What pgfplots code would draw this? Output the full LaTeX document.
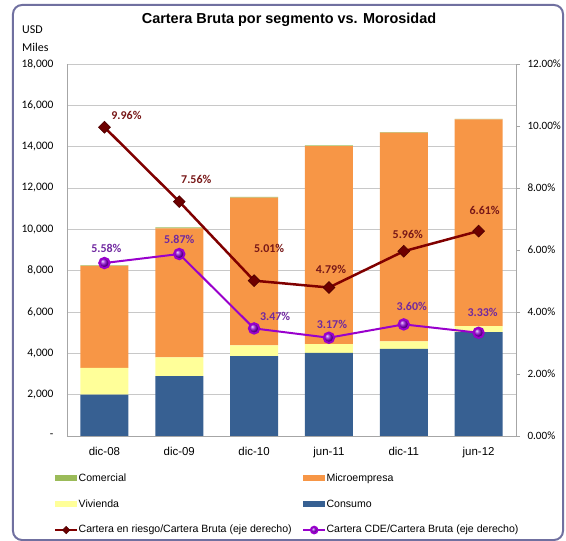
\documentclass[border=0pt]{standalone}
\usepackage{pgfplots}
\pgfplotsset{compat=1.18}
\usepackage{fontspec}
\setmainfont{Carlito}
\newfontfamily\arial{Liberation Sans}
\definecolor{consumo}{RGB}{55,96,146}
\definecolor{vivienda}{RGB}{255,255,153}
\definecolor{micro}{RGB}{247,150,70}
\definecolor{comercial}{RGB}{155,187,89}
\definecolor{riesgo}{RGB}{128,0,0}
\definecolor{riesgolab}{RGB}{120,24,24}
\definecolor{cde}{RGB}{153,0,204}
\definecolor{cdelab}{RGB}{112,40,160}
\definecolor{framec}{RGB}{112,112,160}
\definecolor{axisgray}{RGB}{166,166,166}
\definecolor{gridgray}{RGB}{200,200,200}
\begin{document}
\begin{tikzpicture}[x=1bp,y=1bp]
\path[use as bounding box] (-67,-105) rectangle (499,436);
\draw[framec, line width=2bp, rounded corners=9bp] (-54,-104) rectangle (496,431);
\node[font=\arial\bfseries\fontsize{14.5}{16}\selectfont] at (222,416) {Cartera Bruta por segmento vs. Morosidad};
\node[anchor=west, font=\fontsize{12}{14}\selectfont, inner sep=0pt] at (-45,406) {USD};
\node[anchor=west, font=\fontsize{12}{14}\selectfont, inner sep=0pt] at (-45,389) {Miles};
\begin{axis}[at={(0,0)}, anchor=south west, scale only axis, width=449bp, height=372bp,
  xmin=-0.5, xmax=5.5, ymin=0, ymax=18000,
  scaled y ticks=false,
  ybar stacked, bar width=48bp,
  axis y line*=left, axis x line*=bottom,
  axis line style={draw=axisgray, line width=0.8bp},
  xtick={0,...,5}, xticklabels={dic-08,dic-09,dic-10,jun-11,dic-11,jun-12},
  xticklabel style={font=\arial\fontsize{11.5}{13}\selectfont, yshift=-8bp},
  ytick={0,2000,4000,6000,8000,10000,12000,14000,16000,18000},
  yticklabels={{-\hspace{6bp}},{2,000},{4,000},{6,000},{8,000},{10,000},{12,000},{14,000},{16,000},{18,000}},
  yticklabel style={font=\fontsize{11.5}{13}\selectfont, xshift=-10bp},
  major tick length=0pt,
  ymajorgrids, grid style={draw=gridgray, line width=0.8bp},
  every axis plot/.append style={draw=none},
]
\addplot[fill=consumo] coordinates {(0,2000) (1,2900) (2,3870) (3,4020) (4,4210) (5,5030)};
\addplot[fill=vivienda] coordinates {(0,1300) (1,910) (2,520) (3,430) (4,370) (5,290)};
\addplot[fill=micro] coordinates {(0,4930) (1,6240) (2,7140) (3,9570) (4,10100) (5,10000)};
\addplot[fill=comercial] coordinates {(0,30) (1,40) (2,40) (3,40) (4,20) (5,30)};
\end{axis}
\begin{axis}[at={(0,0)}, anchor=south west, scale only axis, width=449bp, height=372bp,
  xmin=-0.5, xmax=5.5, ymin=0, ymax=12,
  axis y line*=right, axis x line=none,
  axis line style={draw=axisgray, line width=0.8bp},
  ytick={0,2,4,6,8,10,12},
  yticklabels={{0.00\%},{2.00\%},{4.00\%},{6.00\%},{8.00\%},{10.00\%},{12.00\%}},
  yticklabel style={font=\fontsize{11.2}{13}\selectfont, xshift=4bp},
  tick align=outside, major tick length=4bp,
  tick style={draw=axisgray, line width=0.8bp},
  clip=false,
  legend columns=2,
  legend cell align=left,
  legend style={draw=none, fill=none, inner sep=0pt, at={(0,0)}, anchor=north west,
    xshift=-13bp, yshift=-36.5bp,
    font=\arial\fontsize{10.6}{12}\selectfont,
    nodes={inner sep=0.5bp, text height=8bp, text depth=2.5bp},
    row sep=14.3bp,
    /tikz/every even column/.append style={column sep=10bp}},
]
\addlegendimage{draw=none, fill=comercial, legend image code/.code={\fill (0bp,-3bp) rectangle (22bp,3bp);}}
\addlegendentry{Comercial}
\addlegendimage{draw=none, fill=micro, legend image code/.code={\fill (0bp,-3bp) rectangle (22bp,3bp);}}
\addlegendentry{Microempresa}
\addlegendimage{draw=none, fill=vivienda, legend image code/.code={\fill (0bp,-3bp) rectangle (22bp,3bp);}}
\addlegendentry{Vivienda}
\addlegendimage{draw=none, fill=consumo, legend image code/.code={\fill (0bp,-3bp) rectangle (22bp,3bp);}}
\addlegendentry{Consumo}
\addplot[riesgo, line width=2.5bp, mark=square*, mark size=4.2bp,
  mark options={rotate=45, fill=riesgo!85!black, draw=riesgo!60!black, line width=0.6bp},
  legend image code/.code={\draw[mark repeat=2,mark phase=2,mark size=2.6bp,line width=2bp] plot coordinates {(0bp,0bp)(11bp,0bp)(22bp,0bp)};}]
  coordinates {(0,9.96) (1,7.56) (2,5.01) (3,4.79) (4,5.96) (5,6.61)};
\addlegendentry{Cartera en riesgo/Cartera Bruta (eje derecho)}
\addplot[cde, line width=2bp, mark=ball, mark size=5.2bp, mark options={ball color=cde!90!blue}, 
  legend image code/.code={\draw[mark repeat=2,mark phase=2,mark size=3.4bp,line width=1.8bp] plot coordinates {(0bp,0bp)(11bp,0bp)(22bp,0bp)};}]
  coordinates {(0,5.58) (1,5.87) (2,3.47) (3,3.17) (4,3.60) (5,3.33)};
\addlegendentry{Cartera CDE/Cartera Bruta (eje derecho)}
\begin{scope}[every node/.style={font=\bfseries\fontsize{12}{14}\selectfont}]
\node[text=riesgolab, xshift=22bp, yshift=12bp] at (axis cs:0,9.96) {9.96\%};
\node[text=riesgolab, xshift=17bp, yshift=22bp] at (axis cs:1,7.56) {7.56\%};
\node[text=riesgolab, xshift=15bp, yshift=32bp] at (axis cs:2,5.01) {5.01\%};
\node[text=riesgolab, xshift=2bp, yshift=18bp] at (axis cs:3,4.79) {4.79\%};
\node[text=riesgolab, xshift=4bp, yshift=17bp] at (axis cs:4,5.96) {5.96\%};
\node[text=riesgolab, xshift=6bp, yshift=21bp] at (axis cs:5,6.61) {6.61\%};
\node[text=cdelab, xshift=2bp, yshift=15bp] at (axis cs:0,5.58) {5.58\%};
\node[text=cdelab, xshift=0bp, yshift=15bp] at (axis cs:1,5.87) {5.87\%};
\node[text=cdelab, xshift=21bp, yshift=12bp] at (axis cs:2,3.47) {3.47\%};
\node[text=cdelab, xshift=3bp, yshift=13bp] at (axis cs:3,3.17) {3.17\%};
\node[text=cdelab, xshift=8bp, yshift=18bp] at (axis cs:4,3.60) {3.60\%};
\node[text=cdelab, xshift=4bp, yshift=20bp] at (axis cs:5,3.33) {3.33\%};
\end{scope}
\end{axis}
\end{tikzpicture}
\end{document}
